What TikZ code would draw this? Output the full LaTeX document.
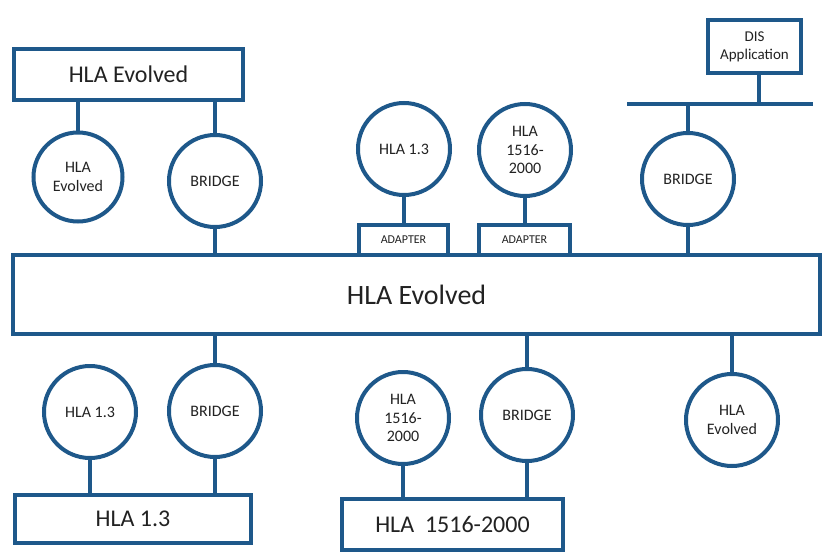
\documentclass[tikz,border=0pt]{standalone}
\usepackage{fontspec}
\setmainfont{Carlito}
\definecolor{netblue}{RGB}{30,88,138}
\definecolor{inktext}{RGB}{34,34,34}
\tikzset{
  wire/.style={draw=netblue, line width=4pt},
  fedbox/.style={draw=netblue, line width=4pt, fill=white, inner sep=0pt,
    text=inktext, align=center, font=\fontsize{24}{28}\selectfont},
  fedcircle/.style={circle, draw=netblue, line width=4pt, fill=white, inner sep=0pt,
    minimum size=92pt, text=inktext, align=center,
    font=\fontsize{16}{18.5}\selectfont},
  adapterbox/.style={draw=netblue, line width=4pt, fill=white, inner sep=0pt,
    minimum width=90pt, minimum height=30pt, text=inktext,
    font=\fontsize{12}{14}\selectfont}
}
\begin{document}
\begin{tikzpicture}[x=1pt, y=-1pt]
\useasboundingbox (0,0) rectangle (823,554);

% central federation bus
\node[fedbox, minimum width=807pt, minimum height=79pt,
  font=\fontsize{28}{32}\selectfont] (main) at (416.5,294.5) {HLA Evolved};

% upper left federation
\node[fedbox, minimum width=229pt, minimum height=51pt] (topbox) at (128.5,74.5) {HLA Evolved};
\node[fedcircle, minimum size=89pt] (c1) at (78,177) {HLA\\Evolved};
\node[fedcircle] (c2) at (215,181) {BRIDGE};

% adapters on top
\node[fedcircle] (c3) at (404,149) {HLA 1.3};
\node[fedcircle] (c4) at (525,150) {HLA\\1516-\\2000};
\node[adapterbox, minimum width=89pt] (ad1) at (403.5,240) {ADAPTER};
\node[adapterbox, minimum width=91pt] (ad2) at (524.5,240) {ADAPTER};

% DIS side
\node[fedbox, minimum width=93pt, minimum height=53pt,
  font=\fontsize{15}{18}\selectfont] (dis) at (754.5,46.5) {DIS\\Application};
\coordinate (busL) at (627,104);
\coordinate (busR) at (813,104);
\coordinate (busTap) at (759,104);
\node[fedcircle] (c5) at (688,179) {BRIDGE};

% lower left federation
\node[fedcircle] (c6) at (90,412) {HLA 1.3};
\node[fedcircle] (c7) at (215,411) {BRIDGE};
\node[fedbox, minimum width=236pt, minimum height=48pt] (box13) at (133,519) {HLA 1.3};

% lower middle federation
\node[fedcircle] (c8) at (403,418) {HLA\\1516-\\2000};
\node[fedcircle] (c9) at (527,415) {BRIDGE};
\node[fedbox, minimum width=221pt, minimum height=51pt] (box1516) at (452.5,524.5) {HLA\ \ 1516-2000};

% federate joined directly
\node[fedcircle] (c10) at (732,420) {HLA\\Evolved};

% connectors
\draw[wire] (c1.north) -- (c1.north |- topbox.south);
\draw[wire] (c2.north) -- (c2.north |- topbox.south);
\draw[wire] (c2.south) -- (c2.south |- main.north);
\draw[wire] (c3.south) -- (c3.south |- ad1.north);
\draw[wire] (c4.south) -- (c4.south |- ad2.north);
\draw[wire] (busL) -- (busR);
\draw[wire] (busTap) -- (busTap |- dis.south);
\draw[wire] (c5.north) -- (c5.north |- busL);
\draw[wire] (c5.south) -- (c5.south |- main.north);
\draw[wire] (c7.north) -- (c7.north |- main.south);
\draw[wire] (c6.south) -- (c6.south |- box13.north);
\draw[wire] (c7.south) -- (c7.south |- box13.north);
\draw[wire] (c9.north) -- (c9.north |- main.south);
\draw[wire] (c8.south) -- (c8.south |- box1516.north);
\draw[wire] (c9.south) -- (c9.south |- box1516.north);
\draw[wire] (c10.north) -- (c10.north |- main.south);
\end{tikzpicture}
\end{document}
